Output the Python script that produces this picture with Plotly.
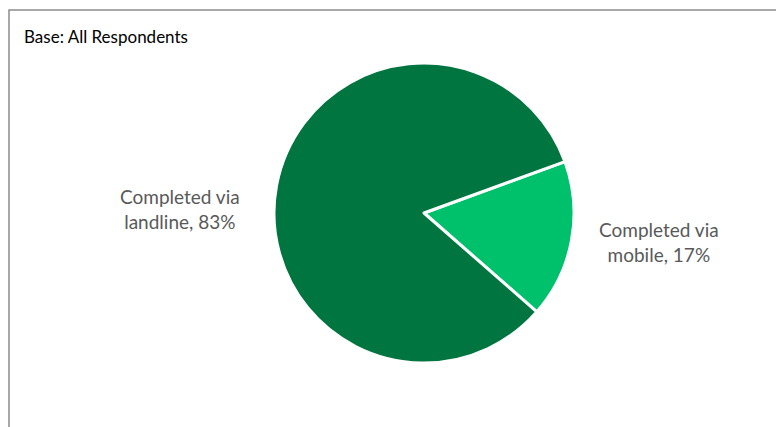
import plotly.graph_objects as go

# Survey completion method split
categories = ["Completed via mobile", "Completed via landline"]
shares = [17, 83]
slice_colors = ["#00C16B", "#007540"]

W, H = 776, 427

fig = go.Figure(
    go.Pie(
        labels=categories,
        values=shares,
        sort=False,
        direction="clockwise",
        rotation=70,
        marker=dict(colors=slice_colors, line=dict(color="#FFFFFF", width=3)),
        textinfo="none",
        hoverinfo="label+percent",
        showlegend=False,
        domain=dict(x=[274 / W, 574 / W], y=[1 - 363 / H, 1 - 63 / H]),
    )
)

label_font = dict(family="Lato, Open Sans, sans-serif", size=19, color="#595959")


def label_text(name, value):
    first, second = name.rsplit(" ", 1)[0], name.rsplit(" ", 1)[1]
    return f"{first}<br>{second}, {value}%"


# Data labels beside each slice
label_pos = {
    "Completed via mobile": (659 / W, 1 - 242 / H),
    "Completed via landline": (180 / W, 1 - 209 / H),
}
annotations = []
for name, val in zip(categories, shares):
    x, y = label_pos[name]
    annotations.append(
        dict(
            x=x, y=y, xref="paper", yref="paper",
            text=label_text(name, val),
            showarrow=False, font=label_font, align="center",
            xanchor="center", yanchor="middle",
        )
    )

annotations.append(
    dict(
        x=22 / W, y=1 - 37 / H, xref="paper", yref="paper",
        text="Base: All Respondents", showarrow=False,
        font=dict(family="Lato, Open Sans, sans-serif", size=17, color="#000000"),
        xanchor="left", yanchor="middle",
    )
)

fig.update_layout(
    width=W,
    height=H,
    margin=dict(l=0, r=0, t=0, b=0),
    paper_bgcolor="#FFFFFF",
    plot_bgcolor="#FFFFFF",
    annotations=annotations,
    shapes=[
        dict(
            type="rect", xref="paper", yref="paper",
            x0=9 / W, x1=1.05, y0=-0.05, y1=1 - 10 / H,
            line=dict(color="#8C8C8C", width=1.5),
            fillcolor="rgba(0,0,0,0)",
        )
    ],
)

fig.write_html("out.html")
